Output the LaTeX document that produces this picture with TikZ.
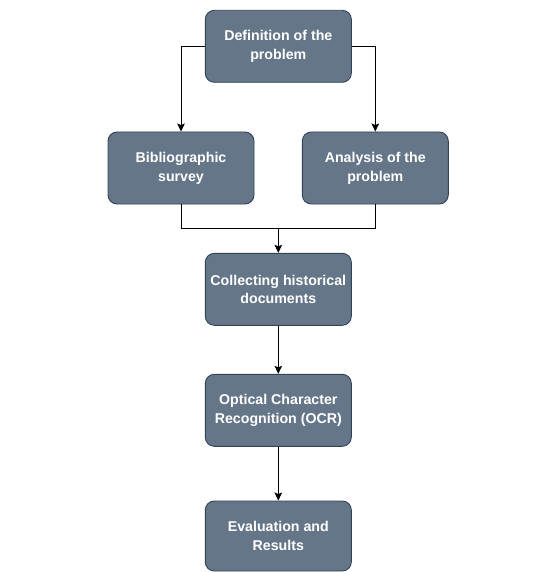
\documentclass[tikz,border=0pt]{standalone}
\usepackage{fontspec}
\setmainfont{Liberation Sans}
\usetikzlibrary{arrows.meta}
\definecolor{boxfill}{HTML}{647687}
\definecolor{boxline}{HTML}{314354}
\tikzset{
  stepbox/.style={draw=boxline, line width=0.9pt, fill=boxfill, rounded corners=9pt,
    minimum width=146pt, minimum height=72pt, inner sep=0pt, align=center,
    text=white, font=\fontsize{14.2pt}{18.7pt}\selectfont\bfseries},
  conn/.style={draw=black, line width=1pt},
  arr/.style={conn, -{Stealth[length=8pt,width=7.5pt,inset=1.5pt]}}
}
\begin{document}
\begin{tikzpicture}[x=1pt,y=-1pt]
\useasboundingbox (0,0) rectangle (532,572);
\node[stepbox] (def) at (278.3,46.3) {Definition of the\\problem};
\node[stepbox] (bib) at (181,168) {Bibliographic\\survey};
\node[stepbox] (ana) at (375.3,168) {Analysis of the\\problem};
\node[stepbox] (col) at (278.3,289.3) {Collecting historical\\documents};
\node[stepbox] (ocr) at (278.3,410.3) {Optical Character\\Recognition (OCR)};
\node[stepbox, minimum height=70pt] (eva) at (278.3,536) {Evaluation and\\Results};
\coordinate (m) at (278.3,228.3);
\draw[arr] (def.west) -| (bib.north);
\draw[arr] (def.east) -| (ana.north);
\draw[conn] (bib.south) |- (m);
\draw[conn] (ana.south) |- (m);
\draw[arr] (m) -- (col.north);
\draw[arr] (col.south) -- (ocr.north);
\draw[arr] (ocr.south) -- (eva.north);
\end{tikzpicture}
\end{document}
